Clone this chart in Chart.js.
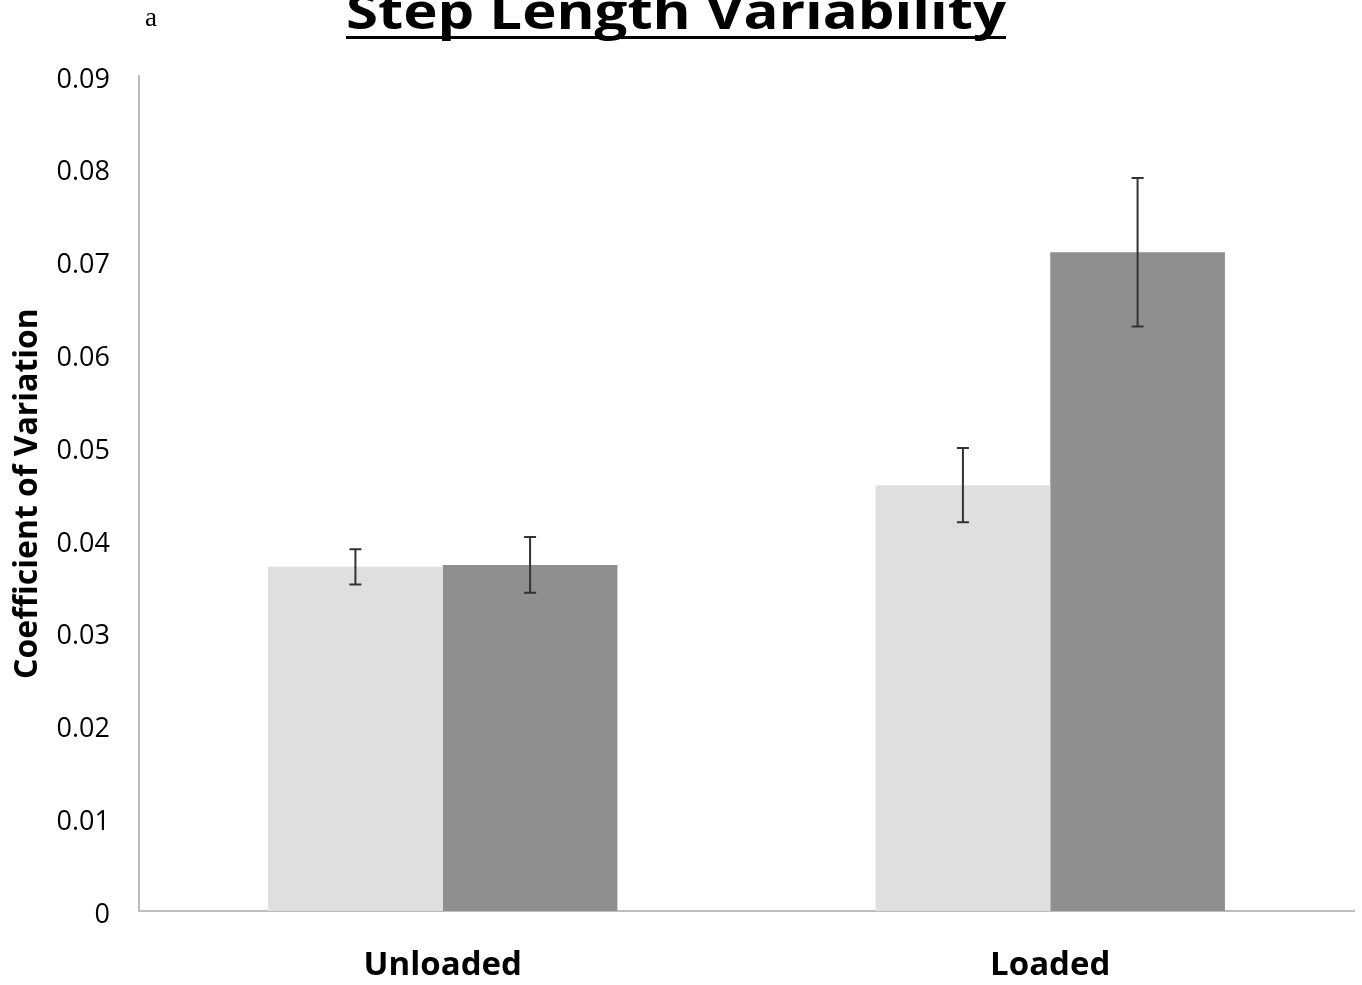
<!DOCTYPE html>
<html>
<head>
<meta charset="utf-8">
<script src="https://cdn.jsdelivr.net/npm/chart.js@4.4.0/dist/chart.umd.min.js"></script>
<style>
  html, body { margin: 0; padding: 0; background: #fff; }
  #wrap { width: 1362px; height: 985px; position: relative; }
</style>
</head>
<body>
<div id="wrap"><canvas id="stepChart" width="1362" height="985"></canvas></div>
<script>
const categories = ['Unloaded', 'Loaded'];
const groupA = [0.0371, 0.0459];
const groupAErr = [0.0019, 0.0040];
const groupB = [0.0373, 0.0710];
const groupBErr = [0.0030, 0.0080];
const yTicks = [0, 0.01, 0.02, 0.03, 0.04, 0.05, 0.06, 0.07, 0.08, 0.09];

// barres d'erreur
const errorBars = {
    id: 'errorBars',
    afterDatasetsDraw(chart) {
        const ctx = chart.ctx;
        const y = chart.scales.y;
        ctx.save();
        ctx.strokeStyle = '#333';
        ctx.lineWidth = 2;
        chart.data.datasets.forEach((ds, i) => {
            const meta = chart.getDatasetMeta(i);
            meta.data.forEach((bar, j) => {
                const top = y.getPixelForValue(ds.data[j] + ds.errors[j]);
                const bot = y.getPixelForValue(ds.data[j] - ds.errors[j]);
                ctx.beginPath();
                ctx.moveTo(bar.x, top); ctx.lineTo(bar.x, bot);
                ctx.moveTo(bar.x - 6, top); ctx.lineTo(bar.x + 6, top);
                ctx.moveTo(bar.x - 6, bot); ctx.lineTo(bar.x + 6, bot);
                ctx.stroke();
            });
        });
        ctx.restore();
    }
};

// titre souligné + lettre du panneau
const titleText = {
    id: 'titleText',
    afterDraw(chart) {
        const ctx = chart.ctx;
        const t = 'Step Length Variability';
        const targetW = 660;
        ctx.save();
        ctx.fillStyle = '#000';
        ctx.font = 'bold 48px "Open Sans"';
        const w = ctx.measureText(t).width;
        ctx.save();
        ctx.translate(676, 29);
        ctx.scale(targetW / w, 1);
        ctx.textAlign = 'center';
        ctx.fillText(t, 0, 0);
        ctx.restore();
        ctx.fillRect(676 - targetW / 2, 36, targetW, 3);
        ctx.font = '27px "Liberation Serif"';
        ctx.textAlign = 'left';
        ctx.fillText('a', 145, 26);
        ctx.restore();
    }
};

const ctx = document.getElementById('stepChart').getContext('2d');
new Chart(ctx, {
    type: 'bar',
    data: {
        labels: categories,
        datasets: [
            { label: 'A', data: groupA, errors: groupAErr, backgroundColor: '#dfdfdf' },
            { label: 'B', data: groupB, errors: groupBErr, backgroundColor: '#8f8f8f' }
        ]
    },
    options: {
        responsive: false,
        animation: false,
        layout: { padding: { top: 76, right: 8, left: 0, bottom: 0 } },
        plugins: { legend: { display: false }, tooltip: { enabled: false } },
        datasets: { bar: { categoryPercentage: 0.575, barPercentage: 1 } },
        scales: {
            x: {
                grid: { display: false, drawTicks: false },
                border: { color: '#bdbdbd', width: 2 },
                ticks: { color: '#000', font: { family: 'Open Sans', size: 33, weight: 'bold' }, padding: 35 },
                afterFit(s) { s.height = 74; }
            },
            y: {
                min: 0, max: 0.09,
                afterBuildTicks(s) { s.ticks = yTicks.map(v => ({ value: v })); },
                grid: { display: false, drawTicks: false },
                border: { color: '#bdbdbd', width: 2 },
                ticks: {
                    color: '#000',
                    font: { family: 'Open Sans', size: 27 },
                    padding: 29,
                    labelOffset: 4,
                    callback: v => v === 0 ? '0' : v.toFixed(2)
                },
                title: {
                    display: true, text: 'Coefficient of Variation', color: '#000',
                    font: { family: 'Open Sans', size: 32, weight: 'bold' }, padding: { top: 9, bottom: 0 }
                },
                afterFit(s) { s.width = 139; }
            }
        }
    },
    plugins: [errorBars, titleText]
});
</script>
</body>
</html>
